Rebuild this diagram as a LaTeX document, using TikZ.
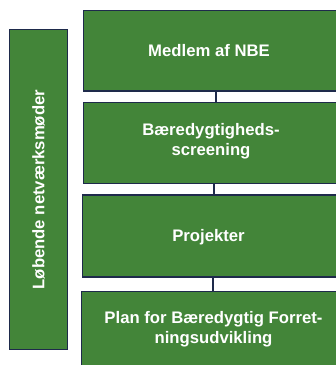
\documentclass[tikz,border=0pt]{standalone}
\usepackage{fontspec}
\setmainfont{Liberation Sans}
\usepackage{tikz}
\usetikzlibrary{positioning}
\definecolor{boxgreen}{RGB}{67,133,57}
\definecolor{boxline}{RGB}{30,42,75}
\tikzset{>=stealth,
	stepbox/.style={draw=boxline, line width=1.2pt, fill=boxgreen, anchor=north west, inner sep=0pt, minimum width=270pt},
	boxtxt/.style={text=white, font=\bfseries\fontsize{16.7}{20}\selectfont, align=center, inner sep=0pt},
	link/.style={draw=boxline, line width=2pt}}

\begin{document}
\begin{tikzpicture}[x=1pt,y=1pt]
		\useasboundingbox (0,0) rectangle (336,365);
		\clip (0,0) rectangle (336,365);
		
		\node [stepbox, minimum width=58pt, minimum height=320pt] (side) at (9,336) {};
		\node [stepbox, minimum height=80.5pt] (b1) at (83,355) {};
		\node [stepbox, minimum height=81pt] (b2) at (82.7,263) {};
		\node [stepbox, minimum height=82pt] (b3) at (82,170.5) {};
		\node [stepbox, minimum height=81pt] (b4) at (81,74) {};
		
		\draw [link] ([xshift=133]b1.south west) -- ([xshift=133]b1.south west |- b2.north);
		\draw [link] ([xshift=130.8]b2.south west) -- ([xshift=130.8]b2.south west |- b3.north);
		\draw [link] ([xshift=130.7]b3.south west) -- ([xshift=130.7]b3.south west |- b4.north);
		
		\node [boxtxt, rotate=90] (ts) at (side.center) {Løbende netværksmøder};
		\node [boxtxt] (t1) at ([xshift=126]b1.west) {Medlem af NBE};
		\node [boxtxt] (t2) at ([xshift=128.3,yshift=1.5]b2.west) {Bæredygtigheds-\\screening};
		\node [boxtxt] (t3) at ([xshift=126.5,yshift=-1]b3.west) {Projekter};
		\node [boxtxt] (t4) at ([xshift=132.5,yshift=2.5]b4.west) {Plan for Bæredygtig Forret-\\ningsudvikling};
		
		\end{tikzpicture}
\end{document}
